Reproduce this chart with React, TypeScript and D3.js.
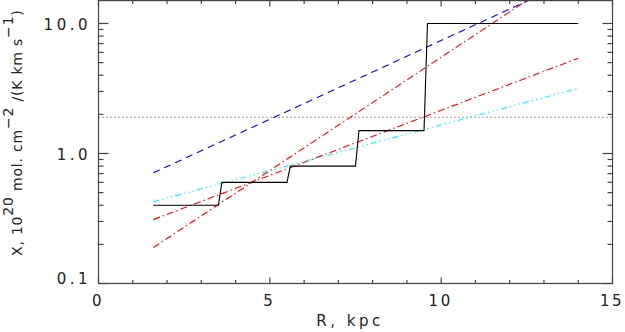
import { useEffect, useRef } from "react";
import * as d3 from "d3";

// black step profile
const stepR = [1.6, 3.5, 3.6, 5.5, 5.6, 7.5, 7.6, 9.5, 9.6, 14.0];
const stepX = [0.4, 0.4, 0.6, 0.6, 0.8, 0.8, 1.5, 1.5, 10.0, 10.0];

// straight fits (log-linear), end points
const fitR = [1.6, 14.0];
const blueX = [0.71, 22.6];
const redSteepX = [0.189, 27.4];
const redX = [0.31, 5.4];
const cyanX = [0.426, 3.17];

const xcoLevel = 1.9;

const xTicks = [0, 5, 10, 15];
const yTicks = [0.1, 1, 10];
const yTickLabels = ["0.1", "1.0", "10.0"];

export default function App() {
  const ref = useRef<SVGSVGElement>(null);

  function init() {
    const settings = {
      width: 625,
      height: 332,
      left: 98.5,
      right: 612.5,
      top: 0.6,
      bottom: 283.5,
    };
    const axisColor = "#444";
    const font = "DejaVu Sans, sans-serif";

    const x = d3.scaleLinear().domain([0, 15]).range([settings.left, settings.right]);
    const y = d3.scaleLog().domain([0.1, 15]).range([settings.bottom, settings.top]);

    const svg = d3.select(ref.current);
    svg.selectAll("*").remove();

    svg
      .append("defs")
      .append("clipPath")
      .attr("id", "plot")
      .append("rect")
      .attr("x", settings.left)
      .attr("y", 0)
      .attr("width", settings.right - settings.left)
      .attr("height", settings.bottom);

    const plot = svg.append("g").attr("clip-path", "url(#plot)");

    const line = d3
      .line<[number, number]>()
      .x((d) => x(d[0]))
      .y((d) => y(d[1]));

    // dotted reference level
    plot
      .append("path")
      .attr("d", line([[0, xcoLevel], [15, xcoLevel]]))
      .attr("fill", "none")
      .attr("stroke", "#333")
      .attr("stroke-width", 1)
      .attr("stroke-dasharray", "1,3");

    const fits = [
      { vals: blueX, color: "#0000ff", dash: "7,5" },
      { vals: redSteepX, color: "#ff0000", dash: "7,3,1.5,3" },
      { vals: redX, color: "#ff0000", dash: "7,3,1.5,3" },
      { vals: cyanX, color: "#00ffff", dash: "6,3,1.5,3,1.5,3,1.5,3" },
    ];
    fits.forEach((f) => {
      plot
        .append("path")
        .attr("d", line(fitR.map((r, i) => [r, f.vals[i]] as [number, number])))
        .attr("fill", "none")
        .attr("stroke", f.color)
        .attr("stroke-width", 1.1)
        .attr("stroke-dasharray", f.dash);
    });

    plot
      .append("path")
      .attr("d", line(stepR.map((r, i) => [r, stepX[i]] as [number, number])))
      .attr("fill", "none")
      .attr("stroke", "#000")
      .attr("stroke-width", 1.1);

    // frame
    const frame = svg.append("g").attr("stroke", axisColor).attr("stroke-width", 1.2).attr("fill", "none");
    frame
      .append("rect")
      .attr("x", settings.left)
      .attr("y", settings.top)
      .attr("width", settings.right - settings.left)
      .attr("height", settings.bottom - settings.top);

    // x ticks (bottom up, top down)
    d3.range(0, 16).forEach((v) => {
      const len = v % 5 === 0 ? 6 : 3.5;
      frame
        .append("line")
        .attr("x1", x(v)).attr("x2", x(v))
        .attr("y1", settings.bottom).attr("y2", settings.bottom - len);
      frame
        .append("line")
        .attr("x1", x(v)).attr("x2", x(v))
        .attr("y1", settings.top).attr("y2", settings.top + len);
    });

    // y ticks (left rightwards, right leftwards)
    const minor: number[] = [];
    [0.1, 1, 10].forEach((d) => d3.range(2, 10).forEach((m) => { if (d * m <= 15) minor.push(d * m); }));
    const yt = [...yTicks.map((v) => ({ v, len: 10 })), ...minor.map((v) => ({ v, len: 5 }))];
    yt.forEach((t) => {
      frame
        .append("line")
        .attr("x1", settings.left).attr("x2", settings.left + t.len)
        .attr("y1", y(t.v)).attr("y2", y(t.v));
      frame
        .append("line")
        .attr("x1", settings.right).attr("x2", settings.right - t.len)
        .attr("y1", y(t.v)).attr("y2", y(t.v));
    });

    const txt = svg
      .append("g")
      .attr("font-family", font)
      .attr("font-size", 15)
      .attr("fill", "#222")
      .attr("letter-spacing", 3.5);

    xTicks.forEach((v) => {
      txt
        .append("text")
        .attr("x", x(v) - 0.5)
        .attr("y", 306)
        .attr("text-anchor", "middle")
        .attr("letter-spacing", 2.5)
        .text(String(v));
    });

    yTicks.forEach((v, i) => {
      txt
        .append("text")
        .attr("x", 91)
        .attr("y", Math.min(y(v) + 1.5, 279))
        .attr("dy", "0.36em")
        .attr("text-anchor", "end")
        .text(yTickLabels[i]);
    });

    txt
      .append("text")
      .attr("x", 350)
      .attr("y", 326)
      .attr("text-anchor", "middle")
      .text("R, kpc");

    const ylab = txt
      .append("text")
      .attr("transform", "translate(22,256) rotate(-90)")
      .attr("font-size", 14)
      .attr("letter-spacing", 0.8);
    const parts: [string, boolean][] = [
      ["X, 10", false],
      ["20", true],
      [" mol. cm", false],
      ["\u22122", true],
      [" /(K km s", false],
      ["\u22121", true],
      [")", false],
    ];
    parts.forEach(([s, sup]) => {
      ylab
        .append("tspan")
        .attr("baseline-shift", sup ? "65%" : "0")
        .text(s);
    });
  }

  useEffect(init, []);
  return (
    <svg
      ref={ref}
      width={625}
      height={332}
      style={{ position: "absolute", left: 0, top: 0, background: "#fff" }}
    />
  );
}
